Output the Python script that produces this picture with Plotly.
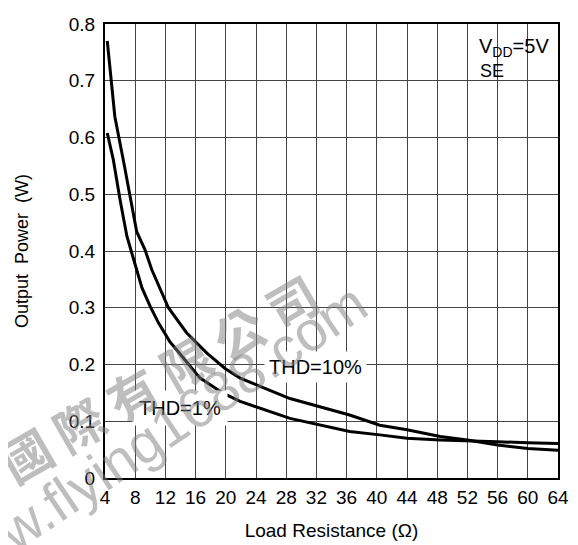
import plotly.graph_objects as go

# Load resistance (ohm) and output power (W)
r_thd10 = [4.3, 5.3, 6.5, 8.2, 9.3, 10.2, 12.4, 14.8, 16.6, 17.5, 19.9, 21.9,
           28.5, 32.5, 36.4, 40.4, 44, 48.4, 52, 56, 60, 64]
p_thd10 = [0.77, 0.637, 0.555, 0.434, 0.402, 0.367, 0.30, 0.256, 0.232, 0.22,
           0.193, 0.176, 0.14, 0.126, 0.111, 0.093, 0.085, 0.073, 0.067, 0.058,
           0.052, 0.049]

r_thd1 = [4.3, 5.1, 6.0, 6.9, 7.8, 8.9, 10, 11.1, 12.6, 14.6, 16.6, 19.7, 21.9,
          28.5, 32.5, 36.4, 40.4, 44, 48.4, 52, 56, 60, 64]
p_thd1 = [0.608, 0.561, 0.49, 0.426, 0.385, 0.335, 0.302, 0.273, 0.24, 0.208,
          0.176, 0.149, 0.135, 0.105, 0.093, 0.082, 0.076, 0.070, 0.067, 0.066,
          0.064, 0.062, 0.061]

x_ticks = list(range(4, 65, 4))
y_ticks = [0, 0.1, 0.2, 0.3, 0.4, 0.5, 0.6, 0.7, 0.8]
y_ticktext = ["0", "0.1", "0.2", "0.3", "0.4", "0.5", "0.6", "0.7", "0.8"]

FONT = "Liberation Sans, Arial, sans-serif"
WM = "rgba(125,125,125,0.5)"

fig = go.Figure()
fig.add_trace(go.Scatter(x=r_thd10, y=p_thd10, mode="lines",
                         line=dict(color="black", width=3), name="THD=10%"))
fig.add_trace(go.Scatter(x=r_thd1, y=p_thd1, mode="lines",
                         line=dict(color="black", width=3), name="THD=1%"))

# white box behind the supply label
fig.add_shape(type="rect", xref="paper", yref="paper", x0=0.806, x1=0.995,
              y0=0.863, y1=0.987, fillcolor="white", line=dict(width=0),
              layer="between")

fig.add_annotation(text="THD=10%", x=31.9, y=0.196, showarrow=False,
                   bgcolor="white", borderpad=4,
                   font=dict(family=FONT, size=20, color="black"))
fig.add_annotation(text="THD=1%", x=13.9, y=0.124, showarrow=False,
                   bgcolor="white", borderpad=6,
                   font=dict(family=FONT, size=20, color="black"))
fig.add_annotation(text="V<sub>DD</sub>=5V", xref="paper", yref="paper",
                   x=0.903, y=0.949, xanchor="center", yanchor="middle",
                   showarrow=False, font=dict(family=FONT, size=20, color="black"))
fig.add_annotation(text="SE", xref="paper", yref="paper",
                   x=0.823, y=0.896, xanchor="left", yanchor="middle",
                   showarrow=False, font=dict(family=FONT, size=18, color="black"))

# watermark
fig.add_annotation(text="<b>國 際 有 限 公 司</b>", xref="paper", yref="paper", x=0.117, y=0.222,
                   xanchor="center", yanchor="middle",
                   showarrow=False, textangle=-30,
                   font=dict(family="Noto Sans CJK TC", size=50, color=WM))
fig.add_annotation(text="www.flying1688.com", xref="paper", yref="paper", x=0.097, y=0.084,
                   xanchor="center", yanchor="middle",
                   showarrow=False, textangle=-34,
                   font=dict(family=FONT, size=56, color=WM))

fig.update_layout(
    width=570, height=537,
    margin=dict(l=97, r=20, t=16, b=67),
    paper_bgcolor="white", plot_bgcolor="white",
    showlegend=False,
    font=dict(family=FONT, size=19, color="black"),
)
fig.update_xaxes(range=[4, 64], tickvals=x_ticks, showgrid=True, automargin=False,
                 gridcolor="#444", gridwidth=1, showline=True, linecolor="black",
                 linewidth=2, mirror=True, ticks="", zeroline=False,
                 tickfont=dict(size=19), ticklabelstandoff=1,
                 title=dict(text="Load Resistance (Ω)", font=dict(size=19), standoff=17))
fig.update_yaxes(range=[0, 0.8], tickvals=y_ticks, ticktext=y_ticktext, showgrid=True,
                 automargin=False,
                 gridcolor="#444", gridwidth=1, showline=True, linecolor="black",
                 linewidth=2, mirror=True, ticks="", zeroline=False,
                 tickfont=dict(size=19), ticklabelstandoff=4,
                 title=dict(text="Output  Power  (W)", font=dict(size=18), standoff=35))

fig.write_html("out.html")
